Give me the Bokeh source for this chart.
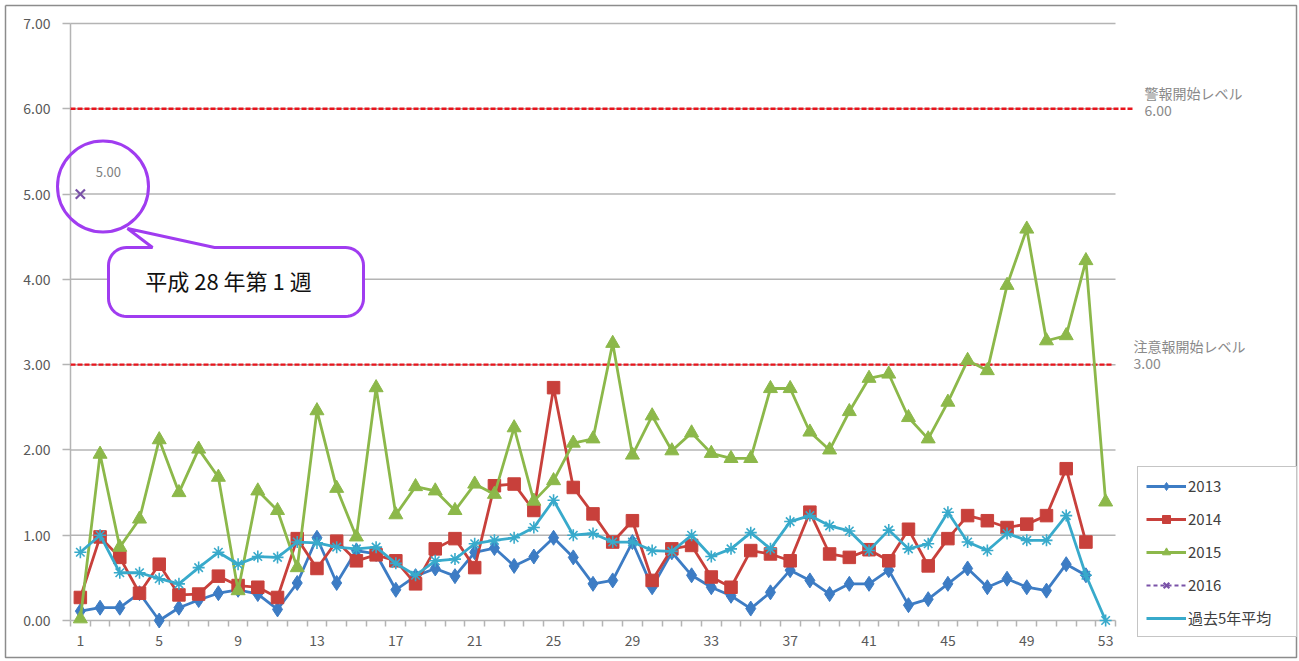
import numpy as np
from bokeh.plotting import figure
from bokeh.models import Range1d, FixedTicker, NumeralTickFormatter, Legend, LegendItem, Label
from bokeh.embed import file_html
from bokeh.resources import INLINE

# ---------------- data ----------------
weeks = list(range(1, 54))
tick_weeks = [1, 5, 9, 13, 17, 21, 25, 29, 33, 37, 41, 45, 49, 53]
y_ticks = [0, 1, 2, 3, 4, 5, 6, 7]

y2013 = [0.11, 0.15, 0.15, 0.32, 0.00, 0.15, 0.24, 0.32, 0.36, 0.31,
         0.13, 0.44, 0.97, 0.44, 0.82, 0.78, 0.36, 0.52, 0.61, 0.52,
         0.80, 0.85, 0.64, 0.75, 0.97, 0.74, 0.43, 0.47, 0.92, 0.39,
         0.80, 0.53, 0.39, 0.29, 0.14, 0.33, 0.59, 0.47, 0.31, 0.43,
         0.43, 0.59, 0.18, 0.25, 0.43, 0.61, 0.39, 0.49, 0.39, 0.35,
         0.66, 0.53]
y2014 = [0.27, 0.98, 0.74, 0.32, 0.66, 0.30, 0.31, 0.52, 0.41, 0.39,
         0.27, 0.96, 0.61, 0.93, 0.70, 0.77, 0.70, 0.43, 0.84, 0.96,
         0.62, 1.58, 1.60, 1.29, 2.73, 1.56, 1.25, 0.92, 1.17, 0.47,
         0.84, 0.88, 0.51, 0.39, 0.82, 0.78, 0.70, 1.27, 0.78, 0.74,
         0.83, 0.70, 1.07, 0.64, 0.96, 1.23, 1.17, 1.09, 1.13, 1.23,
         1.78, 0.92]
y2015 = [0.02, 1.95, 0.86, 1.19, 2.12, 1.50, 2.01, 1.68, 0.35, 1.52,
         1.29, 0.62, 2.46, 1.55, 0.98, 2.73, 1.24, 1.57, 1.52, 1.29,
         1.60, 1.48, 2.26, 1.40, 1.64, 2.08, 2.13, 3.25, 1.94, 2.40,
         1.99, 2.20, 1.96, 1.90, 1.90, 2.72, 2.72, 2.21, 2.00, 2.45,
         2.84, 2.89, 2.38, 2.13, 2.56, 3.05, 2.93, 3.93, 4.59, 3.28,
         3.34, 4.22, 1.39]
y2016 = [5.00]
y_avg = [0.80, 1.00, 0.56, 0.56, 0.49, 0.43, 0.62, 0.80, 0.66, 0.75,
         0.74, 0.92, 0.91, 0.86, 0.84, 0.86, 0.67, 0.53, 0.70, 0.72,
         0.90, 0.94, 0.97, 1.09, 1.41, 1.00, 1.02, 0.92, 0.92, 0.82,
         0.81, 1.00, 0.75, 0.84, 1.03, 0.84, 1.16, 1.23, 1.11, 1.05,
         0.82, 1.06, 0.84, 0.90, 1.27, 0.92, 0.82, 1.02, 0.94, 0.94,
         1.23, 0.53, 0.00]
series_names = ["2013", "2014", "2015", "2016", "過去5年平均"]
warn_level = 6.0
caution_level = 3.0
warn_text = "警報開始レベル"
caution_text = "注意報開始レベル"
callout_text = "平成 28 年第 1 週"

# ---------------- layout ----------------
W, H = 1298, 659
PXU = 1045 / 53.0           # px per week
PYU = 597 / 7.0             # px per value unit
X0 = 0.5                    # left edge of the category area (axis position)

def px2x(px):   # picture x -> data x
    return X0 + (px - 70) / PXU

def px2y(py):   # picture y -> data y
    return (620 - py) / PYU

FONT = "Noto Sans CJK JP"
GRID = "#b4b4b4"

p = figure(width=W, height=H, x_range=Range1d(px2x(0), px2x(W)), y_range=Range1d(px2y(H), px2y(0)),
           output_backend="svg", toolbar_location=None,
           min_border_left=0, min_border_right=0, min_border_top=0, min_border_bottom=0)
p.outline_line_color = None
p.background_fill_color = "white"
p.border_fill_color = "white"
p.xgrid.visible = False
p.ygrid.visible = False

# axes fixed at the data origin
p.xaxis.fixed_location = 0
p.xaxis.ticker = FixedTicker(ticks=tick_weeks, minor_ticks=[w - 0.5 for w in range(1, 55)])
p.xaxis.axis_line_color = None
p.xaxis.major_tick_line_color = None
p.xaxis.minor_tick_line_color = GRID
p.xaxis.minor_tick_line_width = 1.5
p.xaxis.minor_tick_out = 6
p.xaxis.minor_tick_in = 0
p.xaxis.major_label_standoff = 8
p.xaxis.major_label_text_font = FONT
p.xaxis.major_label_text_font_size = "14px"
p.xaxis.major_label_text_color = "#595959"

p.yaxis.fixed_location = X0
p.yaxis.ticker = FixedTicker(ticks=y_ticks, minor_ticks=[])
p.yaxis.formatter = NumeralTickFormatter(format="0.00")
p.yaxis.axis_line_color = None
p.yaxis.major_tick_line_color = GRID
p.yaxis.major_tick_line_width = 1.5
p.yaxis.major_tick_out = 8
p.yaxis.major_tick_in = 0
p.yaxis.minor_tick_line_color = None
p.yaxis.major_label_standoff = 12
p.yaxis.major_label_text_font = FONT
p.yaxis.major_label_text_font_size = "14px"
p.yaxis.major_label_text_color = "#595959"

# axis lines and horizontal gridlines (limited to the category area)
p.segment(x0=[X0], y0=[y_ticks[0]], x1=[X0], y1=[y_ticks[-1]], line_color=GRID, line_width=1.5)
p.segment(x0=[X0] * len(y_ticks), y0=y_ticks, x1=[len(weeks) + 0.5] * len(y_ticks), y1=y_ticks,
          line_color=GRID, line_width=1.5)

# outer chart border
bx0, bx1, by0, by1 = px2x(5), px2x(1296), px2y(5), px2y(657)
p.line([bx0, bx1, bx1, bx0, bx0], [by0, by0, by1, by1, by0], line_color="#8c8c8c", line_width=1.5)

# threshold lines
p.line([X0, px2x(1132)], [warn_level, warn_level], line_color="#e8141c", line_width=2.4, line_dash="5 2")
p.line([X0, px2x(1112)], [caution_level, caution_level], line_color="#e8141c", line_width=2.4, line_dash="5 2")

lab_style = dict(text_font=FONT, text_font_size="14px", text_color="#8a8a8a", text_baseline="middle")
p.add_layout(Label(x=px2x(1144), y=warn_level, y_offset=16, text=warn_text, **lab_style))
p.add_layout(Label(x=px2x(1144), y=warn_level, y_offset=-2, text=f"{warn_level:.2f}", **lab_style))
p.add_layout(Label(x=px2x(1133), y=caution_level, y_offset=19, text=caution_text, **lab_style))
p.add_layout(Label(x=px2x(1133), y=caution_level, y_offset=1, text=f"{caution_level:.2f}", **lab_style))

# series
C13, C14, C15, C16, CAV = "#3d7cc4", "#c8403b", "#8cb84a", "#7a52a8", "#38aacb"
LW = 2.8

l13 = p.line(weeks[:len(y2013)], y2013, line_color=C13, line_width=LW)
m13 = p.scatter(weeks[:len(y2013)], y2013, marker="diamond", size=15,
                fill_color=C13, line_color=C13)
l14 = p.line(weeks[:len(y2014)], y2014, line_color=C14, line_width=LW)
m14 = p.scatter(weeks[:len(y2014)], y2014, marker="square", size=12.5, fill_color=C14, line_color=C14)
l15 = p.line(weeks[:len(y2015)], y2015, line_color=C15, line_width=LW)
m15 = p.scatter(weeks[:len(y2015)], y2015, marker="triangle", size=14, fill_color=C15, line_color=C15)
l16 = p.line(weeks[:len(y2016)], y2016, line_color=C16, line_width=2, line_dash="4 3")
m16 = p.scatter(weeks[:len(y2016)], y2016, marker="x", size=13, line_color=C16, line_width=2.2)
lav = p.line(weeks[:len(y_avg)], y_avg, line_color=CAV, line_width=LW)
mav = p.scatter(weeks[:len(y_avg)], y_avg, marker="asterisk", size=12, line_color=CAV, line_width=1.6)

# data label for 2016
p.add_layout(Label(x=weeks[0], y=y2016[0], x_offset=28, y_offset=22, text=f"{y2016[0]:.2f}",
                   text_align="center", text_baseline="middle", text_font=FONT,
                   text_font_size="13px", text_color="#7f7f7f"))

# callout
PURP = "#a03cf0"
p.scatter([px2x(102.5)], [px2y(186)], marker="circle", size=91, fill_color=None,
          line_color=PURP, line_width=3)

def rounded_bubble(x0, y0, x1, y1, r, tail):
    pts = []
    def arc(cx, cy, a0, a1):
        for a in np.linspace(a0, a1, 12):
            pts.append((cx + r * np.cos(a), cy + r * np.sin(a)))
    pts.append((x0 + r, y0))
    pts.extend(tail)
    arc(x1 - r, y0 + r, -np.pi / 2, 0)
    arc(x1 - r, y1 - r, 0, np.pi / 2)
    arc(x0 + r, y1 - r, np.pi / 2, np.pi)
    arc(x0 + r, y0 + r, np.pi, 1.5 * np.pi)
    return [px2x(a) for a, b in pts], [px2y(b) for a, b in pts]

bxs, bys = rounded_bubble(108, 247, 363, 316, 18, [(152, 247), (127, 228), (214, 247)])
p.patch(bxs, bys, fill_color="white", line_color=PURP, line_width=3)
p.add_layout(Label(x=px2x(228), y=px2y(279), text=callout_text, text_align="center",
                   text_baseline="middle", text_font=FONT, text_font_size="22px", text_color="#111111"))

legend = Legend(items=[
    LegendItem(label=series_names[0], renderers=[l13, m13]),
    LegendItem(label=series_names[1], renderers=[l14, m14]),
    LegendItem(label=series_names[2], renderers=[l15, m15]),
    LegendItem(label=series_names[3], renderers=[l16, m16]),
    LegendItem(label=series_names[4], renderers=[lav]),
], location=(1137, H - 637))
legend.border_line_color = "#8c8c8c"
legend.border_line_width = 1.5
legend.background_fill_color = "white"
legend.background_fill_alpha = 1.0
legend.label_text_font = FONT
legend.label_text_font_size = "15px"
legend.label_text_color = "#404040"
legend.glyph_width = 40
legend.glyph_height = 20
legend.label_height = 20
legend.spacing = 12
legend.padding = 8
legend.margin = 0
legend.label_standoff = 2
legend.label_width = 100
p.add_layout(legend)

open("out.html", "w").write(file_html(p, INLINE))
